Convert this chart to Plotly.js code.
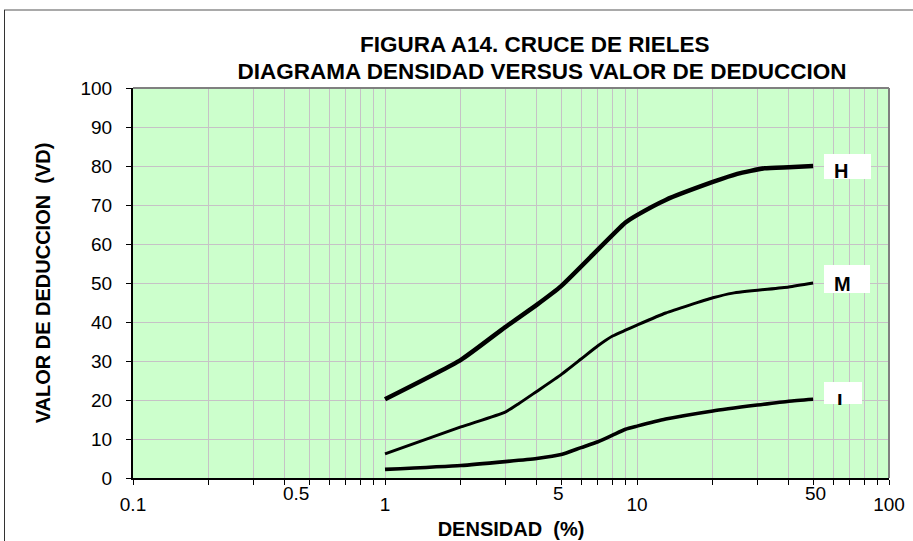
<!DOCTYPE html>
<html>
<head>
<meta charset="utf-8">
<script src="https://cdn.plot.ly/plotly-3.0.1.min.js"></script>
<style>html,body{margin:0;padding:0;background:#fff}#chart{width:913px;height:541px}</style>
</head>
<body>
<div id="chart"></div>
<script>
// ---- data ----
const hX = [1, 2, 3, 4, 5, 9, 10, 13, 20, 25, 32, 40, 50];
const hY = [20.2, 30.3, 38.7, 44.4, 49.2, 65.5, 67.4, 71.3, 75.9, 78, 79.4, 79.7, 80];

const mX = [1, 2, 3, 3.4, 4, 5, 6, 7, 8, 9, 10, 13, 20, 24, 40, 50];
const mY = [6.2, 13.1, 16.9, 19.1, 22.2, 26.5, 30.5, 33.9, 36.4, 37.9, 39.2, 42.3, 46.2, 47.4, 49, 50];

const lX = [1, 2, 3, 4, 5, 6, 7, 8, 9, 10, 13, 20, 30, 40, 50];
const lY = [2.2, 3.2, 4.2, 5.0, 6, 7.8, 9.3, 11, 12.5, 13.3, 15.1, 17.2, 18.7, 19.7, 20.2];

const seriesNames = ['H', 'M', 'L'];

const xGridVals = [0.1,0.2,0.3,0.4,0.5,0.6,0.7,0.8,0.9,1,2,3,4,5,6,7,8,9,10,20,30,40,50,60,70,80,90,100];
const xMainLabels = {0.1: '0.1', 1: '1', 10: '10', 100: '100'};
const xExtraLabels = [0.5, 5, 50];
const xExtraText = ['0.5', '5', '50'];
const yTicks = [0,10,20,30,40,50,60,70,80,90,100];

const titleLines = ['FIGURA A14. CRUCE DE RIELES', 'DIAGRAMA DENSIDAD VERSUS VALOR DE DEDUCCION'];
const xTitle = 'DENSIDAD  (%)';
const yTitle = 'VALOR DE DEDUCCION  (VD)';

// ---- layout geometry ----
const W = 913, H = 541;
const ML = 133, MR = 24, MT = 88, MB = 63;
const PW = W - ML - MR, PH = H - MT - MB;
const px = x => (x - ML) / PW;
const py = y => (H - MB - y) / PH;

const FONT = 'Liberation Sans, Arial, sans-serif';
const gridCol = '#c6c2c6';

function trace(x, y, w) {
  return {x: x, y: y, type: 'scatter', mode: 'lines',
    line: {color: '#000', width: w, shape: 'spline', smoothing: 0.5},
    hoverinfo: 'skip', showlegend: false};
}

const data = [trace(hX, hY, 4.5), trace(mX, mY, 3), trace(lX, lY, 3.6)];

const extraShift = [-13, -3, 2];
const annotations = xExtraLabels.map((v, i) => ({
  x: Math.log10(v), xref: 'x', y: py(481), yref: 'paper',
  xanchor: 'center', yanchor: 'top', showarrow: false, xshift: extraShift[i],
  text: xExtraText[i], font: {family: FONT, size: 19, color: '#000'}
}));

// label boxes (white) with letters
const boxes = [
  {x0: 824, x1: 871, y0: 154, y1: 179},
  {x0: 824, x1: 870, y0: 265, y1: 293},
  {x0: 824, x1: 862, y0: 382, y1: 404}
];
const shapes = boxes.map(b => ({type: 'rect', xref: 'paper', yref: 'paper',
  x0: px(b.x0), x1: px(b.x1), y0: py(b.y1), y1: py(b.y0),
  fillcolor: '#fff', line: {width: 0}, layer: 'above'}));

annotations.push({x: px(833), y: py(183), xref: 'paper', yref: 'paper', xanchor: 'left', yanchor: 'bottom',
  showarrow: false, text: '<b>' + seriesNames[0] + '</b>', font: {family: FONT, size: 20, color: '#000'}, borderpad: 0});
annotations.push({x: px(833), y: py(296), xref: 'paper', yref: 'paper', xanchor: 'left', yanchor: 'bottom',
  showarrow: false, text: '<b>' + seriesNames[1] + '</b>', font: {family: FONT, size: 20, color: '#000'}, borderpad: 0});
annotations.push({x: px(836), y: py(389), xref: 'paper', yref: 'paper', xanchor: 'left', yanchor: 'top',
  width: 20, height: 15, valign: 'top', align: 'left',
  showarrow: false, text: '<b>' + seriesNames[2] + '</b>', font: {family: FONT, size: 20, color: '#000'}, borderpad: 0});

// title first line
annotations.push({x: px(535), y: py(45), xref: 'paper', yref: 'paper', xanchor: 'center', yanchor: 'middle',
  showarrow: false, text: '<b>' + titleLines[0] + '</b>', font: {family: FONT, size: 22.5, color: '#000'}, borderpad: 0});

// outer frame
shapes.push({type: 'line', xref: 'paper', yref: 'paper', x0: px(4), x1: px(920), y0: py(10), y1: py(10), line: {color: '#8c8c8c', width: 1.5}});
shapes.push({type: 'line', xref: 'paper', yref: 'paper', x0: px(4.5), x1: px(4.5), y0: py(10), y1: py(560), line: {color: '#333', width: 1}});
// plot area top/right borders
shapes.push({type: 'line', xref: 'paper', yref: 'paper', x0: 0, x1: 1, y0: 1, y1: 1, line: {color: '#808080', width: 2}});
shapes.push({type: 'line', xref: 'paper', yref: 'paper', x0: 1, x1: 1, y0: 0, y1: 1, line: {color: '#808080', width: 2}});

const layout = {
  width: W, height: H,
  margin: {l: ML, r: MR, t: MT, b: MB, pad: 0},
  paper_bgcolor: '#fff', plot_bgcolor: '#ccffcc',
  font: {family: FONT, color: '#000'},
  title: {text: '<b>' + titleLines[1] + '</b>', x: px(542), xref: 'paper', xanchor: 'center',
          y: 1 - 71 / H, yref: 'container', yanchor: 'middle', font: {family: FONT, size: 22.5, color: '#000'}},
  xaxis: {type: 'log', range: [-1, 2], tickmode: 'array', tickvals: xGridVals,
    ticktext: xGridVals.map(v => xMainLabels[v] || ''),
    ticks: 'outside', ticklen: 5, tickcolor: '#000', tickwidth: 1,
    showgrid: true, gridcolor: gridCol, gridwidth: 1,
    showline: true, linecolor: '#000', linewidth: 2, zeroline: false,
    tickfont: {family: FONT, size: 19, color: '#000'}, ticklabelstandoff: 3,
    title: {text: '<b>' + xTitle + '</b>', font: {family: FONT, size: 20, color: '#000'}, standoff: 8},
    fixedrange: true},
  yaxis: {range: [0, 100], tickmode: 'array', tickvals: yTicks,
    ticks: 'outside', ticklen: 5, tickcolor: '#000', tickwidth: 1,
    showgrid: true, gridcolor: gridCol, gridwidth: 1,
    showline: true, linecolor: '#000', linewidth: 2, zeroline: false,
    tickfont: {family: FONT, size: 19, color: '#000'}, ticklabelstandoff: 10,
    title: {text: '<b>' + yTitle + '</b>', font: {family: FONT, size: 20, color: '#000'}, standoff: 24},
    fixedrange: true},
  shapes: shapes,
  annotations: annotations
};

Plotly.newPlot('chart', data, layout, {staticPlot: true, displayModeBar: false});
</script>
</body>
</html>
